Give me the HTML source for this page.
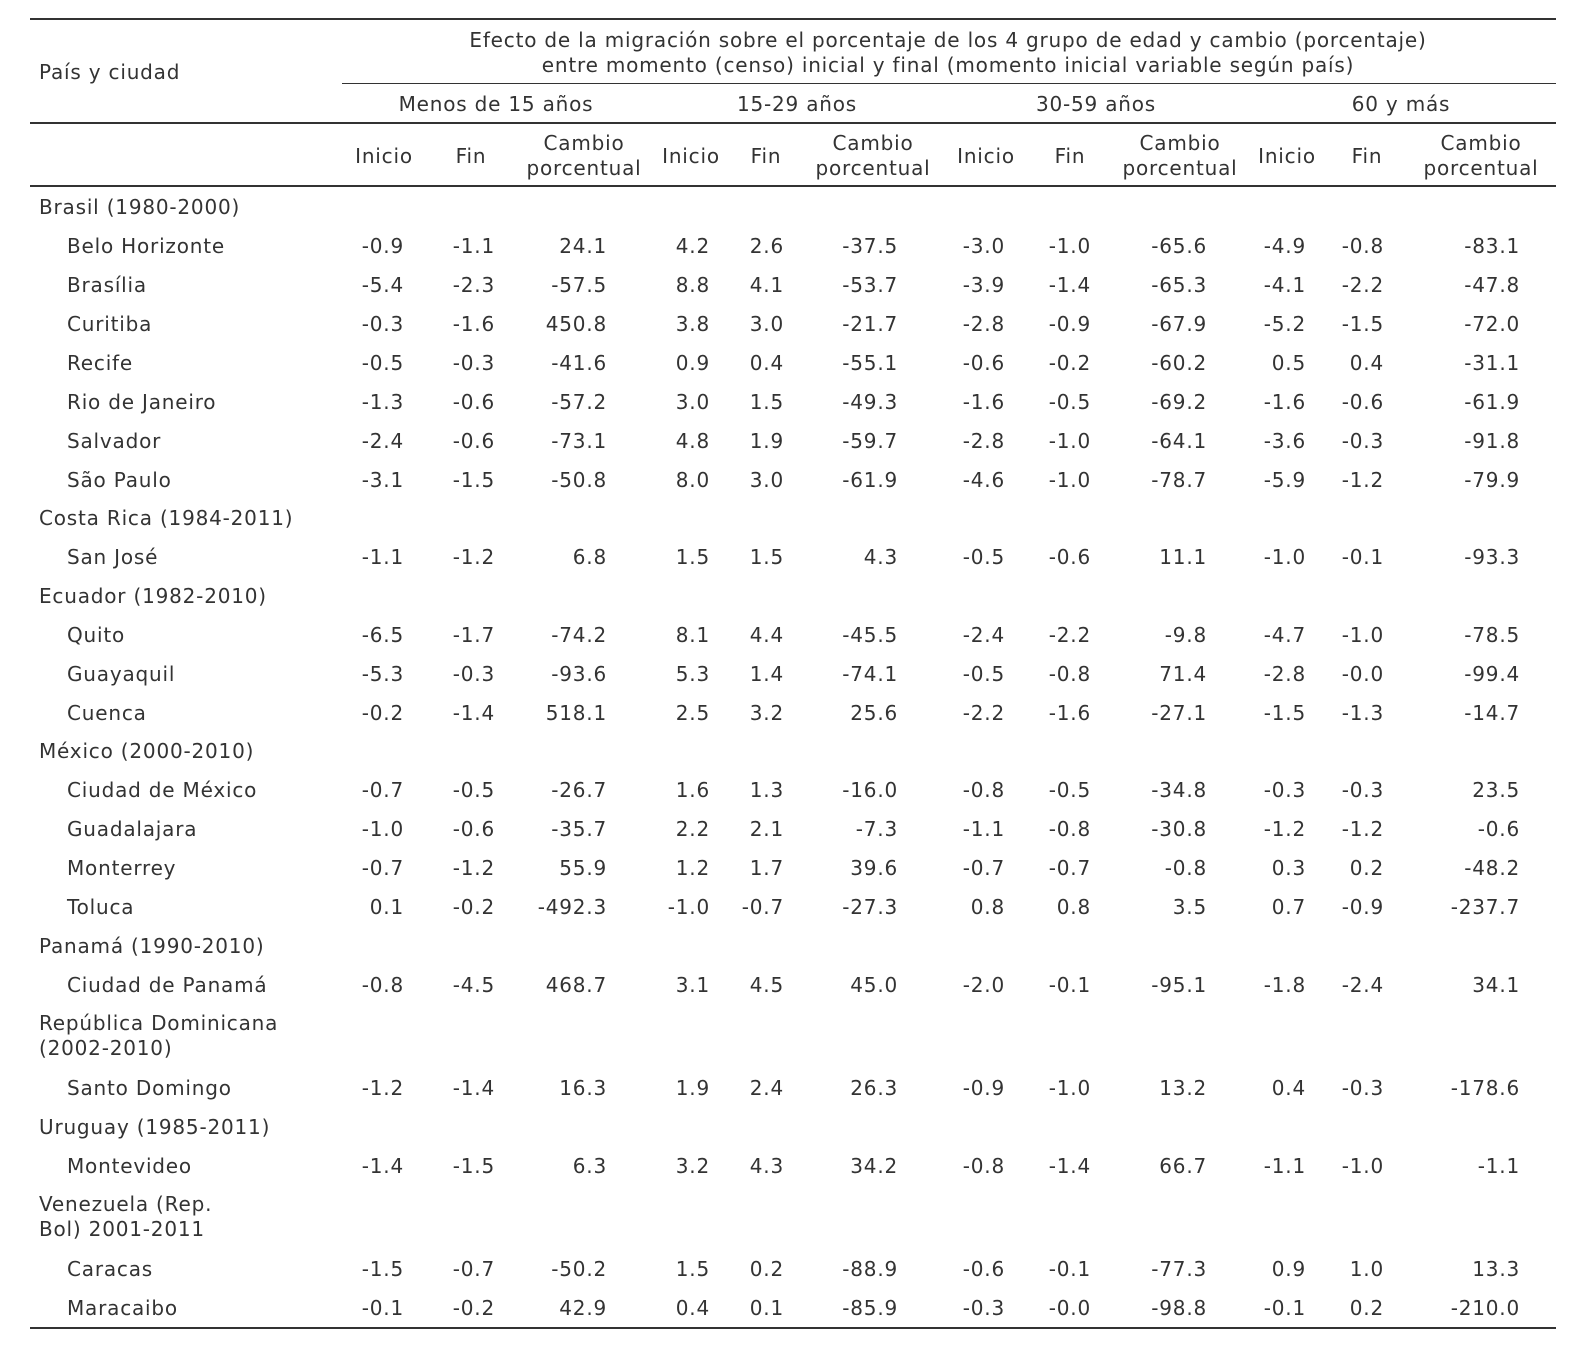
<!DOCTYPE html>
<html><head><meta charset="utf-8">
<style>
html,body{margin:0;padding:0;background:#fff;}
#tbl{position:relative;width:1588px;height:1359px;font-family:"DejaVu Sans","Liberation Sans",sans-serif;font-size:20px;color:#333;letter-spacing:0.8px;}
.t{position:absolute;white-space:nowrap;line-height:24px;transform:translateY(-12px);}
.c{transform:translate(-50%,-12px);text-align:center;}
.r{transform:translate(-100%,-12px);text-align:right;}
.rule{position:absolute;height:0;border-top:2px solid #333;}
</style></head><body>
<div id="tbl">
<div class="rule" style="left:30px;width:1526px;top:18px"></div>
<div class="rule" style="left:342px;width:1214px;top:83px;border-top-width:1.5px"></div>
<div class="rule" style="left:30px;width:1526px;top:122px"></div>
<div class="rule" style="left:30px;width:1526px;top:185px"></div>
<div class="rule" style="left:30px;width:1526px;top:1327px"></div>
<div class="t" style="left:39px;top:72px">País y ciudad</div>
<div class="t c" style="left:948px;top:53px;line-height:25px;transform:translate(-50%,-25px)">Efecto de la migración sobre el porcentaje de los 4 grupo de edad y cambio (porcentaje)<br>entre momento (censo) inicial y final (momento inicial variable según país)</div>
</div>
<script>
const groups=["Menos de 15 años","15-29 años","30-59 años","60 y más"];
const subHeads=["Inicio","Fin","Cambio<br>porcentual"];
const rowLabels=[
["Brasil (1980-2000)",0],["Belo Horizonte",1],["Brasília",1],["Curitiba",1],["Recife",1],["Rio de Janeiro",1],["Salvador",1],["São Paulo",1],
["Costa Rica (1984-2011)",0],["San José",1],["Ecuador (1982-2010)",0],["Quito",1],["Guayaquil",1],["Cuenca",1],
["México (2000-2010)",0],["Ciudad de México",1],["Guadalajara",1],["Monterrey",1],["Toluca",1],
["Panamá (1990-2010)",0],["Ciudad de Panamá",1],["República Dominicana<br>(2002-2010)",0],["Santo Domingo",1],
["Uruguay (1985-2011)",0],["Montevideo",1],["Venezuela (Rep.<br>Bol) 2001-2011",0],["Caracas",1],["Maracaibo",1]];
const rowY=[207,246,285,324,363,402,441,480,518,557,596,635,674,713,751,790,829,868,907,946,985,1036,1088,1127,1166,1217,1269,1308];
const values={
"Belo Horizonte":["-0.9","-1.1","24.1","4.2","2.6","-37.5","-3.0","-1.0","-65.6","-4.9","-0.8","-83.1"],
"Brasília":["-5.4","-2.3","-57.5","8.8","4.1","-53.7","-3.9","-1.4","-65.3","-4.1","-2.2","-47.8"],
"Curitiba":["-0.3","-1.6","450.8","3.8","3.0","-21.7","-2.8","-0.9","-67.9","-5.2","-1.5","-72.0"],
"Recife":["-0.5","-0.3","-41.6","0.9","0.4","-55.1","-0.6","-0.2","-60.2","0.5","0.4","-31.1"],
"Rio de Janeiro":["-1.3","-0.6","-57.2","3.0","1.5","-49.3","-1.6","-0.5","-69.2","-1.6","-0.6","-61.9"],
"Salvador":["-2.4","-0.6","-73.1","4.8","1.9","-59.7","-2.8","-1.0","-64.1","-3.6","-0.3","-91.8"],
"São Paulo":["-3.1","-1.5","-50.8","8.0","3.0","-61.9","-4.6","-1.0","-78.7","-5.9","-1.2","-79.9"],
"San José":["-1.1","-1.2","6.8","1.5","1.5","4.3","-0.5","-0.6","11.1","-1.0","-0.1","-93.3"],
"Quito":["-6.5","-1.7","-74.2","8.1","4.4","-45.5","-2.4","-2.2","-9.8","-4.7","-1.0","-78.5"],
"Guayaquil":["-5.3","-0.3","-93.6","5.3","1.4","-74.1","-0.5","-0.8","71.4","-2.8","-0.0","-99.4"],
"Cuenca":["-0.2","-1.4","518.1","2.5","3.2","25.6","-2.2","-1.6","-27.1","-1.5","-1.3","-14.7"],
"Ciudad de México":["-0.7","-0.5","-26.7","1.6","1.3","-16.0","-0.8","-0.5","-34.8","-0.3","-0.3","23.5"],
"Guadalajara":["-1.0","-0.6","-35.7","2.2","2.1","-7.3","-1.1","-0.8","-30.8","-1.2","-1.2","-0.6"],
"Monterrey":["-0.7","-1.2","55.9","1.2","1.7","39.6","-0.7","-0.7","-0.8","0.3","0.2","-48.2"],
"Toluca":["0.1","-0.2","-492.3","-1.0","-0.7","-27.3","0.8","0.8","3.5","0.7","-0.9","-237.7"],
"Ciudad de Panamá":["-0.8","-4.5","468.7","3.1","4.5","45.0","-2.0","-0.1","-95.1","-1.8","-2.4","34.1"],
"Santo Domingo":["-1.2","-1.4","16.3","1.9","2.4","26.3","-0.9","-1.0","13.2","0.4","-0.3","-178.6"],
"Montevideo":["-1.4","-1.5","6.3","3.2","4.3","34.2","-0.8","-1.4","66.7","-1.1","-1.0","-1.1"],
"Caracas":["-1.5","-0.7","-50.2","1.5","0.2","-88.9","-0.6","-0.1","-77.3","0.9","1.0","13.3"],
"Maracaibo":["-0.1","-0.2","42.9","0.4","0.1","-85.9","-0.3","-0.0","-98.8","-0.1","0.2","-210.0"]};
const groupX=[496,797,1096,1401];
const headX=[384,471,584,691,766,873,986,1070,1180,1287,1367,1481];
const colRight=[404,495,607,710,784,898,1005,1091,1207,1306,1384,1520];
const root=document.getElementById('tbl');
function add(html,cls,left,top,name){
  const d=document.createElement('div');
  d.className='t '+cls;d.innerHTML=html;d.style.left=left+'px';d.style.top=top+'px';
  
  
  root.appendChild(d);return d;
}
groups.forEach((g,i)=>add(g,'c',groupX[i],104,'group-header-'+(i+1)));
headX.forEach((x,i)=>{
  const h=subHeads[i%3];
  const d=add(h,'c',x,i%3===2?168:156,'sub-header-'+(i+1));
  if(i%3===2){d.style.lineHeight='25px';d.style.transform='translate(-50%,-37px)';}
});
rowLabels.forEach((r,i)=>{
  const y=rowY[i];const two=r[0].includes('<br>');
  const d=add(r[0],'',r[1]?67:39,y,r[1]?'city-label':'country-label');
  if(two){d.style.lineHeight='25px';d.style.transform='translateY(-25px)';}
  const plain=r[0];
  if(values[plain]){
    values[plain].forEach((v,j)=>add(v,'r',colRight[j],y,'cell-value'));
  }
});
</script>
</body></html>
